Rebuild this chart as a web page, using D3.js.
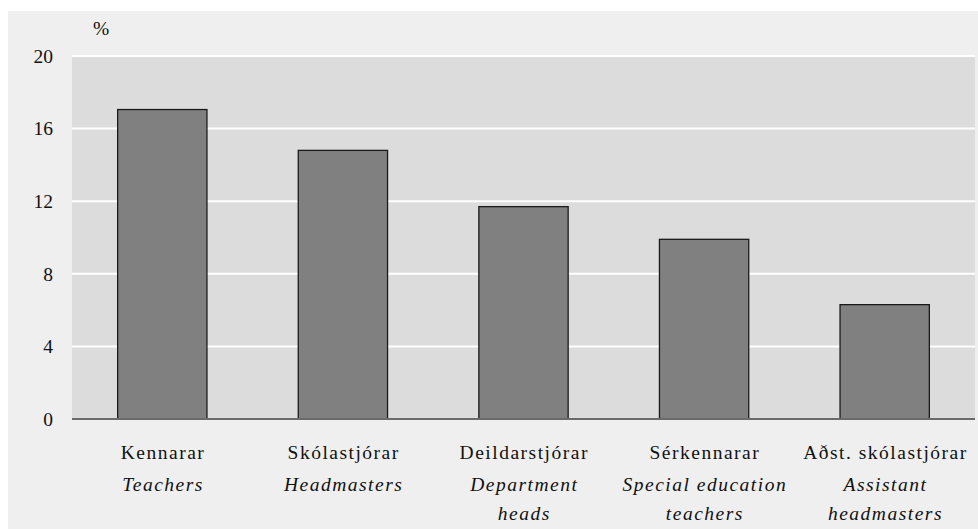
<!DOCTYPE html>
<html><head><meta charset="utf-8">
<script src="https://cdn.jsdelivr.net/npm/d3@7"></script>
<style>
html,body{margin:0;padding:0;background:#fff;}
svg{display:block;}
</style></head>
<body>
<svg id="chart" width="978" height="529"></svg>
<script>
const categories = ["Kennarar","Skólastjórar","Deildarstjórar","Sérkennarar","Aðst. skólastjórar"];
const englishLabels = [["Teachers"],["Headmasters"],["Department","heads"],["Special education","teachers"],["Assistant","headmasters"]];
const values = [17.05, 14.8, 11.7, 9.9, 6.3];
const yTicks = [0, 4, 8, 12, 16, 20];
const unitLabel = "%";

const FONT = "Liberation Serif";
const SPACING = 1.5;
const svg = d3.select("#chart");
const W = 978, H = 529;
const m = {left:72, right:3};

svg.append("rect").attr("x",8).attr("y",11).attr("width",W-8).attr("height",H-11).attr("fill","#efefef");

const x = d3.scaleBand().domain(categories).range([m.left, W-m.right]).paddingInner(0.5).paddingOuter(0.25);
const y = d3.scaleLinear().domain([0,20]).range([419, 56]);

svg.append("rect").attr("x",m.left).attr("y",y(20)).attr("width",W-m.right-m.left).attr("height",y(0)-y(20)).attr("fill","#dcdcdc");

// gridlines
svg.append("g").selectAll("line").data(yTicks.filter(d=>d>0)).join("line")
  .attr("x1",m.left).attr("x2",W-m.right)
  .attr("y1",d=>y(d)).attr("y2",d=>y(d))
  .attr("stroke","#fff").attr("stroke-width",2);

// y axis
const yAxis = d3.axisLeft(y).tickValues(yTicks).tickSize(0).tickPadding(19);
const ga = svg.append("g").attr("transform",`translate(${m.left},0)`).call(yAxis);
ga.select(".domain").remove();
ga.attr("font-family",null).attr("font-size",null);
ga.selectAll("text").attr("font-size",19.5).attr("fill","#111").style("font-family",FONT);

// bars
svg.append("g").selectAll("rect").data(values).join("rect")
  .attr("x",(d,i)=>x(categories[i])+0.5)
  .attr("y",d=>y(d))
  .attr("width",x.bandwidth()-1)
  .attr("height",d=>y(0)-y(d))
  .attr("fill","#808080").attr("stroke","#1a1a1a").attr("stroke-width",1.3);

// baseline
svg.append("line").attr("x1",m.left).attr("x2",W-m.right).attr("y1",y(0)).attr("y2",y(0))
  .attr("stroke","#6a6a6a").attr("stroke-width",2);

function spaced(sel){
  const n = sel.text().length;
  const w = sel.node().getComputedTextLength();
  sel.attr("textLength", w + SPACING*(n-1)).attr("lengthAdjust","spacing");
}

// category labels
const lab = svg.append("g");
categories.forEach((c,i)=>{
  const cx = x(c)+x.bandwidth()/2;
  const t = lab.append("text").attr("x",cx).attr("y",459).attr("text-anchor","middle")
    .attr("font-size",19.5).attr("fill","#111").style("font-family",FONT).text(c);
  spaced(t);
  englishLabels[i].forEach((s,j)=>{
    const e = lab.append("text").attr("x",cx).attr("y",490.5+j*29).attr("text-anchor","middle")
      .attr("font-size",19.5).attr("font-style","italic").attr("fill","#111").style("font-family",FONT).text(s);
    spaced(e);
  });
});

svg.append("text").attr("x",93).attr("y",35).attr("font-size",19.5).attr("fill","#111").style("font-family",FONT).text(unitLabel);
</script>
</body></html>
